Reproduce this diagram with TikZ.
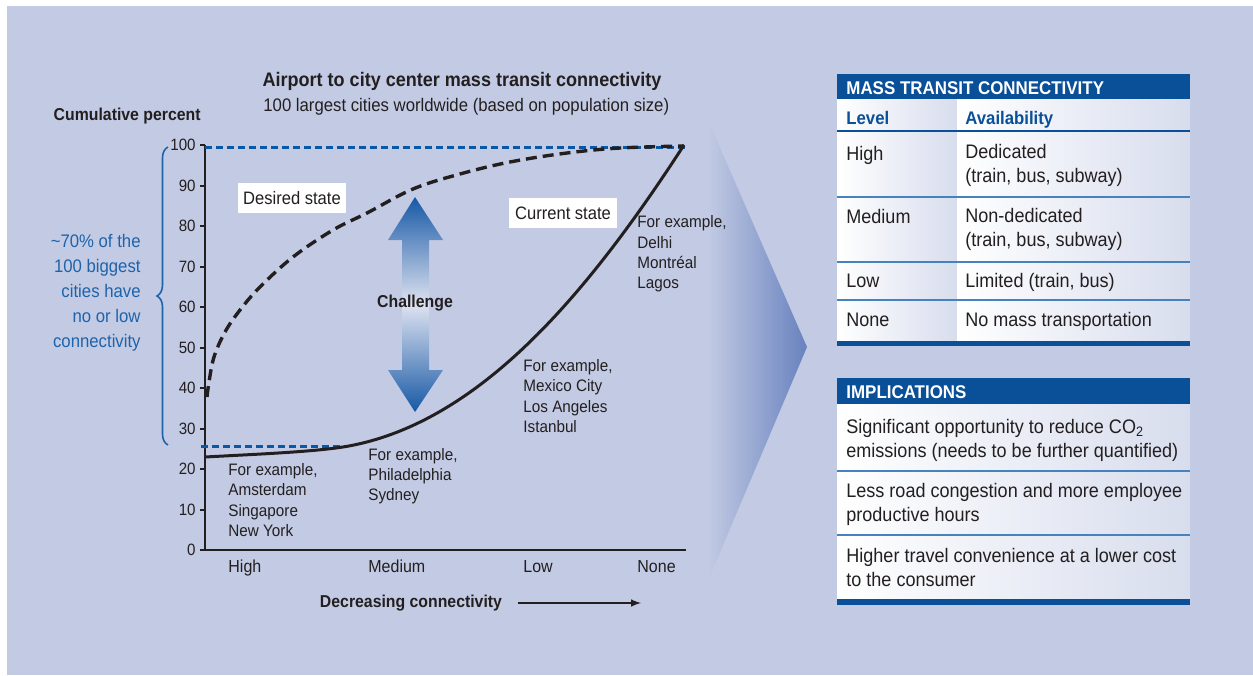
\documentclass[tikz,border=0pt]{standalone}
\usepackage{fontspec}
\setmainfont{Liberation Sans}[FakeStretch=0.92]
\usetikzlibrary{decorations.pathreplacing}
\usepackage{xcolor}

\definecolor{pagebg}{RGB}{195,203,228}
\definecolor{darkblue}{RGB}{10,80,152}
\definecolor{dashblue}{RGB}{10,88,165}
\definecolor{braceblue}{RGB}{30,99,170}
\definecolor{rowline}{RGB}{70,130,190}
\definecolor{inkgray}{RGB}{35,31,32}
\definecolor{chevron}{RGB}{104,130,190}
\definecolor{arrowblue}{RGB}{22,88,165}

\begin{document}
\begin{tikzpicture}[x=0.5pt, y=-0.5pt,
	txt/.style={inner sep=0pt, text=inkgray, align=left, font=\fontsize{8.3}{10.15}\selectfont},
	ex/.style={txt, anchor=west},
	cat/.style={txt, anchor=base west, font=\fontsize{8.7}{10}\selectfont},
	tick/.style={txt, anchor=east, font=\fontsize{8.2}{9}\selectfont},
	hd/.style={inner sep=0pt, text=inkgray, font=\bfseries\fontsize{8.6}{10}\selectfont},
	state/.style={fill=white, inner sep=0pt, minimum width=54pt, minimum height=15pt, text=inkgray, font=\fontsize{9}{10}\selectfont},
	cell/.style={inner sep=0pt, anchor=west, align=left, text=inkgray, font=\fontsize{9.8}{12}\selectfont},
	onecell/.style={cell, anchor=base west},
	colhd/.style={inner sep=0pt, anchor=base west, text=darkblue, font=\bfseries\fontsize{9.1}{11}\selectfont},
	barhd/.style={inner sep=0pt, anchor=base west, text=white, font=\bfseries\fontsize{9.2}{11}\selectfont},
	sepline/.style={rowline, line width=0.7pt},
	bluedash/.style={dashblue, line width=1.5pt, dash pattern=on 3.5pt off 2pt},
	curve/.style={inkgray, line width=1.5pt, line cap=butt},
	]
	% page
	\fill [white] (0,0) rectangle (1253,675);
	\fill [pagebg] (7,6) rectangle (1253,675);
	\useasboundingbox (0,0) rectangle (1253,675);

	% titles
	\node [hd, font=\bfseries\fontsize{9.8}{11}\selectfont] (title) at (462,81) {Airport to city center mass transit connectivity};
	\node [txt, anchor=west, font=\fontsize{9.1}{11}\selectfont] (subtitle) at (263,107) {100 largest cities worldwide (based on population size)};
	\node [hd, anchor=east] (ylabel) at (201,116) {Cumulative percent};

	% arrow shape towards the tables
	\shade [left color=pagebg, right color=chevron] (707,118) -- (807,347) -- (707,583) -- cycle;

	% axes
	\draw [inkgray, line width=1pt] (205,145) -- (205,550) -- (686,550);
	\foreach \v in {0,10,...,100} {
		\draw [inkgray, line width=1pt] (200,{550-4.05*\v}) -- (205,{550-4.05*\v});
		\node [tick] (tick\v) at (196,{550-4.05*\v}) {\v};
	}

	% target levels
	\draw [bluedash] (205,147) -- (685,147);
	\draw [bluedash] (201,446) -- (345,446);

	% desired and current state
	\draw [curve, line width=1.7pt, dash pattern=on 5.5pt off 3pt] plot [smooth, tension=0.6] coordinates {
		(207,397) (209,382) (214,357) (225,332) (240,310) (260,287) (293,257)
		(333,230) (367,213) (413,189) (460,174) (510,162) (567,153) (620,148) (684,146)};
	\draw [curve] (205,457) .. controls (260,454) and (310,452) .. (343,447)
		.. controls (480,425) and (590,290) .. (684,145);

	\node [state] (desired) at (292,198) {Desired state};
	\node [state] (current) at (563,213) {Current state};

	% challenge
	\shade [top color=arrowblue, bottom color=arrowblue, middle color=pagebg!55!white]
		(415,197) -- (443,240) -- (429,240) -- (429,370) -- (443,370) -- (415,412) --
		(388,370) -- (402,370) -- (402,240) -- (388,240) -- cycle;
	\node [hd] (chal) at (415,303) {Challenge};

	% examples
	\node [ex] (exHigh) at (228,500) {For example,\\Amsterdam\\Singapore\\New York};
	\node [ex] (exMed) at (368,476) {For example,\\Philadelphia\\Sydney};
	\node [ex] (exLow) at (523,396) {For example,\\Mexico City\\Los Angeles\\Istanbul};
	\node [ex] (exNone) at (637,254) {For example,\\Delhi\\Montréal\\Lagos};

	% categories
	\node [cat] (catHigh) at (228,572) {High};
	\node [cat] (catMed) at (368,572) {Medium};
	\node [cat] (catLow) at (523,572) {Low};
	\node [cat] (catNone) at (637,572) {None};

	\node [hd] (xlabel) at (411,603) {Decreasing connectivity};
	\coordinate (arrS) at (518,603);
	\coordinate (arrE) at (641,603);
	\draw [-latex, inkgray, line width=0.7pt] (arrS) -- (arrE);

	% brace note
	\draw [braceblue, line width=0.8pt, decorate, decoration={brace, amplitude=5.5pt}] (168,445) -- (168,147);
	\node [txt, anchor=east, align=right, text=braceblue, font=\fontsize{9.1}{12.5}\selectfont] (note) at (141,293)
		{\textasciitilde70\% of the\\100 biggest\\cities have\\no or low\\connectivity};

	% table: mass transit connectivity
	\shade [left color=white, right color=pagebg!65!white] (837,99) rectangle (957,342);
	\shade [left color=white, right color=pagebg!65!white] (957,99) rectangle (1190,342);
	\fill [darkblue] (837,74) rectangle (1190,99);
	\draw [darkblue, line width=1.2pt] (837,131) -- (1190,131);
	\draw [sepline] (837,197) -- (1190,197);
	\draw [sepline] (837,262) -- (1190,262);
	\draw [sepline] (837,300) -- (1190,300);
	\fill [darkblue] (837,341) rectangle (1190,346);

	\node [barhd] (mtc) at (846,94) {MASS TRANSIT CONNECTIVITY};
	\node [colhd] (lvl) at (846,124) {Level};
	\node [colhd] (avail) at (965,124) {Availability};
	\node [onecell] (lHigh) at (846,160) {High};
	\node [cell] (aHigh) at (965,165) {Dedicated\\(train, bus, subway)};
	\node [onecell] (lMed) at (846,223) {Medium};
	\node [cell] (aMed) at (965,229) {Non-dedicated\\(train, bus, subway)};
	\node [onecell] (lLow) at (846,287) {Low};
	\node [onecell] (aLow) at (965,287) {Limited (train, bus)};
	\node [onecell] (lNone) at (846,326) {None};
	\node [onecell] (aNone) at (965,326) {No mass transportation};

	% table: implications
	\shade [left color=white, right color=pagebg!65!white] (837,404) rectangle (1190,600);
	\fill [darkblue] (837,378) rectangle (1190,404);
	\draw [sepline] (837,471) -- (1190,471);
	\draw [sepline] (837,535) -- (1190,535);
	\fill [darkblue] (837,599) rectangle (1190,605);

	\node [barhd] (impl) at (846,398) {IMPLICATIONS};
	\node [cell] (imp1) at (846,440) {Significant opportunity to reduce CO\textsubscript{2}\\emissions (needs to be further quantified)};
	\node [cell] (imp2) at (846,504) {Less road congestion and more employee\\productive hours};
	\node [cell] (imp3) at (846,567) {Higher travel convenience at a lower cost\\to the consumer};
\end{tikzpicture}
\end{document}
